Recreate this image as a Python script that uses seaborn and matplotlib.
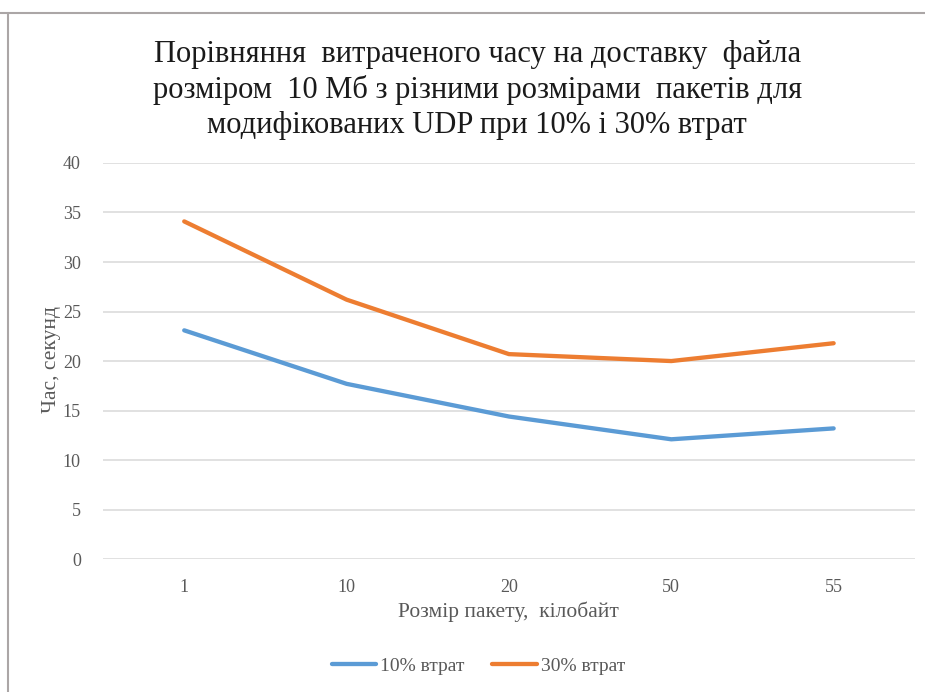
import matplotlib
matplotlib.use("Agg")
import matplotlib.pyplot as plt
import seaborn as sns
import pandas as pd
from matplotlib.lines import Line2D

packet_sizes = ["1", "10", "20", "50", "55"]
loss10 = [23.1, 17.7, 14.4, 12.1, 13.2]
loss30 = [34.1, 26.2, 20.7, 20.0, 21.8]
series_names = ["10% втрат", "30% втрат"]
colors = ["#5B9BD5", "#ED7D31"]
y_ticks = [0, 5, 10, 15, 20, 25, 30, 35, 40]

df = pd.DataFrame({
    "size": packet_sizes * 2,
    "time": loss10 + loss30,
    "series": [series_names[0]] * len(packet_sizes) + [series_names[1]] * len(packet_sizes),
})

sns.set_theme(style="white")
plt.rcParams['font.family'] = ['Liberation Serif', 'DejaVu Serif']

fig = plt.figure(figsize=(9.25, 6.92), dpi=100)
ax = fig.add_axes([0.1114, 0.192, 0.989 - 0.1114, 0.7645 - 0.192])

sns.lineplot(data=df, x="size", y="time", hue="series", palette=colors,
             linewidth=3.1, ax=ax, legend=False, sort=False)
for ln in ax.lines:
    ln.set_solid_capstyle("round")
    ln.set_solid_joinstyle("round")

ax.set_xlim(-0.5, len(packet_sizes) - 0.5)
ax.set_ylim(0, 40)
ax.set_yticks(y_ticks)
ax.set_yticklabels([str(t) for t in y_ticks])
ax.grid(axis="y", color="#d9d9d9", linewidth=1.1)
ax.grid(axis="x", visible=False)
ax.set_axisbelow(True)
for s in ax.spines.values():
    s.set_visible(False)
ax.tick_params(axis="both", length=0, labelsize=13, labelcolor="#595959")
ax.tick_params(axis="x", pad=14)
ax.tick_params(axis="y", pad=16)

ax.set_xlabel("Розмір пакету,  кілобайт", fontsize=15.5, color="#595959")
ax.set_ylabel("Час, секунд", fontsize=15.5, color="#595959")
ax.xaxis.label.set_va("center")
ax.yaxis.label.set_va("center")
ax.xaxis.set_label_coords(0.5, -0.133)
ax.yaxis.set_label_coords(-0.063, 0.503)

fig.text(0.516, 1 - 90 / 692,
         "Порівняння  витраченого часу на доставку  файла\n"
         "розміром  10 Мб з різними розмірами  пакетів для\n"
         "модифікованих UDP при 10% і 30% втрат",
         ha="center", va="center", fontsize=22, color="#1a1a1a", linespacing=1.25)

handles = [Line2D([0], [0], color=c, lw=3.1, solid_capstyle="round") for c in colors]
fig.legend(handles, series_names, loc="center", bbox_to_anchor=(0.517, 1 - 666 / 692),
           ncol=2, frameon=False, fontsize=14, labelcolor="#595959",
           handlelength=2.3, handletextpad=0.2, columnspacing=1.4)

# figure frame (top and left only)
fig.add_artist(Line2D([0, 1], [1 - 13 / 692, 1 - 13 / 692], transform=fig.transFigure,
                      color="#aba6a6", lw=1.5))
fig.add_artist(Line2D([8 / 925, 8 / 925], [0, 1 - 13 / 692], transform=fig.transFigure,
                      color="#aba6a6", lw=1.5))

fig.savefig("out.png", dpi=100, facecolor="white")
